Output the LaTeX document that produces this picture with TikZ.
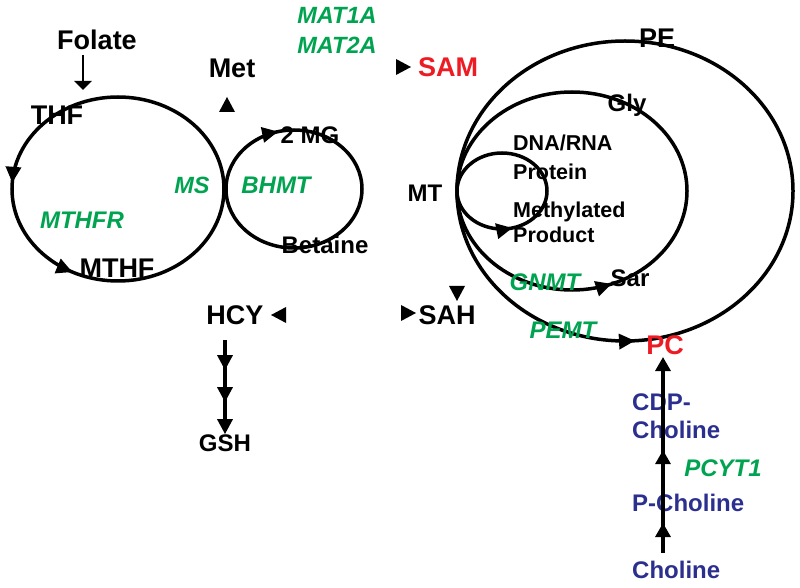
\documentclass[tikz,border=0pt]{standalone}
\usepackage{fontspec}
\setmainfont{Liberation Sans}
\usetikzlibrary{arrows.meta,decorations.markings}
\definecolor{gtxt}{RGB}{0,163,80}
\definecolor{rtxt}{RGB}{237,28,36}
\definecolor{btxt}{RGB}{43,47,142}
\tikzset{
  big/.style={inner sep=0pt, font=\fontsize{27}{30}\selectfont\bfseries, text height=19.3pt, text depth=0pt},
  mid/.style={inner sep=0pt, font=\fontsize{24}{28}\selectfont\bfseries, text height=17.2pt, text depth=0pt},
  sml/.style={inner sep=0pt, font=\fontsize{21.5}{25}\selectfont\bfseries, text height=15.4pt, text depth=0pt},
  enz/.style={inner sep=0pt, font=\fontsize{24}{28}\selectfont\bfseries\itshape, text height=17.2pt, text depth=0pt, text=gtxt},
  enzs/.style={inner sep=0pt, font=\fontsize{23.5}{28}\selectfont\bfseries\itshape, text height=16.8pt, text depth=0pt, text=gtxt},
  cyc/.style={line width=3.5pt},
  mkr/.style={postaction={decorate}, decoration={markings, mark=at position #1 with {\arrowreversed{Triangle[length=16pt,width=15pt]}}}},
}
\newcommand{\trihead}[3]{\fill[shift={(#1,#2)}, rotate=#3] (8,0) -- (-7,8) -- (-7,-8) -- cycle;}
\begin{document}
\begin{tikzpicture}[x=1pt,y=1pt]
\useasboundingbox (0,0) rectangle (800,587);
% left cycle (folate)
\draw[cyc, postaction={decorate}, decoration={markings,
   mark=at position 0.49 with {\arrow{Triangle[length=16pt,width=15pt]}},
   mark=at position 0.675 with {\arrow{Triangle[length=16pt,width=15pt]}}}]
  (118,398) ellipse [x radius=106, y radius=92];
% BHMT cycle (clockwise)
\draw[cyc, mkr=0.29] (294,398) ellipse [x radius=68, y radius=59];
% right cycles
\draw[cyc, postaction={decorate}, decoration={markings, mark=at position 0.76 with {\arrow{Triangle[length=16pt,width=15pt]}}}]
  (625,396) ellipse [x radius=168, y radius=150];
\draw[cyc, postaction={decorate}, decoration={markings, mark=at position 0.81 with {\arrow{Triangle[length=16pt,width=15pt]}}}]
  (572,396) ellipse [x radius=115, y radius=99];
\draw[cyc, postaction={decorate}, decoration={markings, mark=at position 0.79 with {\arrow{Triangle[length=16pt,width=15pt]}}}]
  (502,396) ellipse [x radius=45, y radius=38];

% labels left
\node[big] (folate) at (97,547) {Folate};
\node[big] (thf) at (57,472) {THF};
\node[big] (met) at (232,519) {Met};
\node[enzs] (mat1) at (337,572) {MAT1A};
\node[enzs] (mat2) at (337,542) {MAT2A};
\node[enzs] (ms) at (192,402) {MS};
\node[enz] (bhmt) at (276,402) {BHMT};
\node[enz] (mthfr) at (82,367) {MTHFR};
\node[big] (mthf) at (117,319) {MTHF};
\node[mid] (mg) at (310,452) {2 MG};
\node[mid] (betaine) at (325,342) {Betaine};
\node[big] (hcy) at (235,272) {HCY};
\node[mid] (gsh) at (225,144) {GSH};
\coordinate (folA) at (83,532);
\coordinate (folB) at (83,497);
\draw[line width=2.5pt, -{Triangle[length=9pt,width=17pt]}] (folA) -- (folB);

% HCY to GSH
\coordinate (hcyA) at (225,247);
\draw[line width=3.2pt, -{Triangle[length=15pt,width=15pt]},
  postaction={decorate}, decoration={markings,
   mark=at position 0.32 with {\arrow{Triangle[length=15pt,width=15pt]}},
   mark=at position 0.66 with {\arrow{Triangle[length=15pt,width=15pt]}}}]
  (hcyA) -- (gsh.north);

% right labels
\node[big, text=rtxt] (sam) at (448,520) {SAM};
\node[big] (pe) at (657,549) {PE};
\node[mid] (gly) at (627,484) {Gly};
\node[sml, anchor=west] (dna) at (513,444) {DNA/RNA};
\node[sml, anchor=west] (prot) at (513,415) {Protein};
\node[sml, anchor=west] (methd) at (513,377) {Methylated};
\node[sml, anchor=west] (prod) at (513,352) {Product};
\node[mid] (mt) at (425,394) {MT};
\node[enz] (gnmt) at (545,305) {GNMT};
\node[mid] (sar) at (630,309) {Sar};
\node[big] (sah) at (447,272) {SAH};
\node[enz] (pemt) at (563,257) {PEMT};
\node[big, text=rtxt] (pc) at (665,242) {PC};
\node[mid, text=btxt, anchor=west] (cdp) at (632,185) {CDP-};
\node[mid, text=btxt, anchor=west] (cdp2) at (632,157) {Choline};
\node[enz] (pcyt) at (723,119) {PCYT1};
\node[mid, text=btxt, anchor=west] (pcho) at (632,84) {P-Choline};
\node[mid, text=btxt, anchor=west] (cho) at (632,17) {Choline};

% choline to PC
\coordinate (choA) at (663,34);
\coordinate (pcB) at (663,230);
\draw[line width=3.2pt, -{Triangle[length=14pt,width=15pt]},
  postaction={decorate}, decoration={markings,
   mark=at position 0.153 with {\arrow{Triangle[length=14pt,width=15pt]}},
   mark=at position 0.525 with {\arrow{Triangle[length=14pt,width=15pt]}}}]
  (choA) -- (pcB);

% isolated arrowheads
\trihead{227}{482}{90}
\trihead{403}{520}{0}
\trihead{279}{272}{180}
\trihead{408}{274}{0}
\trihead{457}{294}{-90}
\end{tikzpicture}
\end{document}
